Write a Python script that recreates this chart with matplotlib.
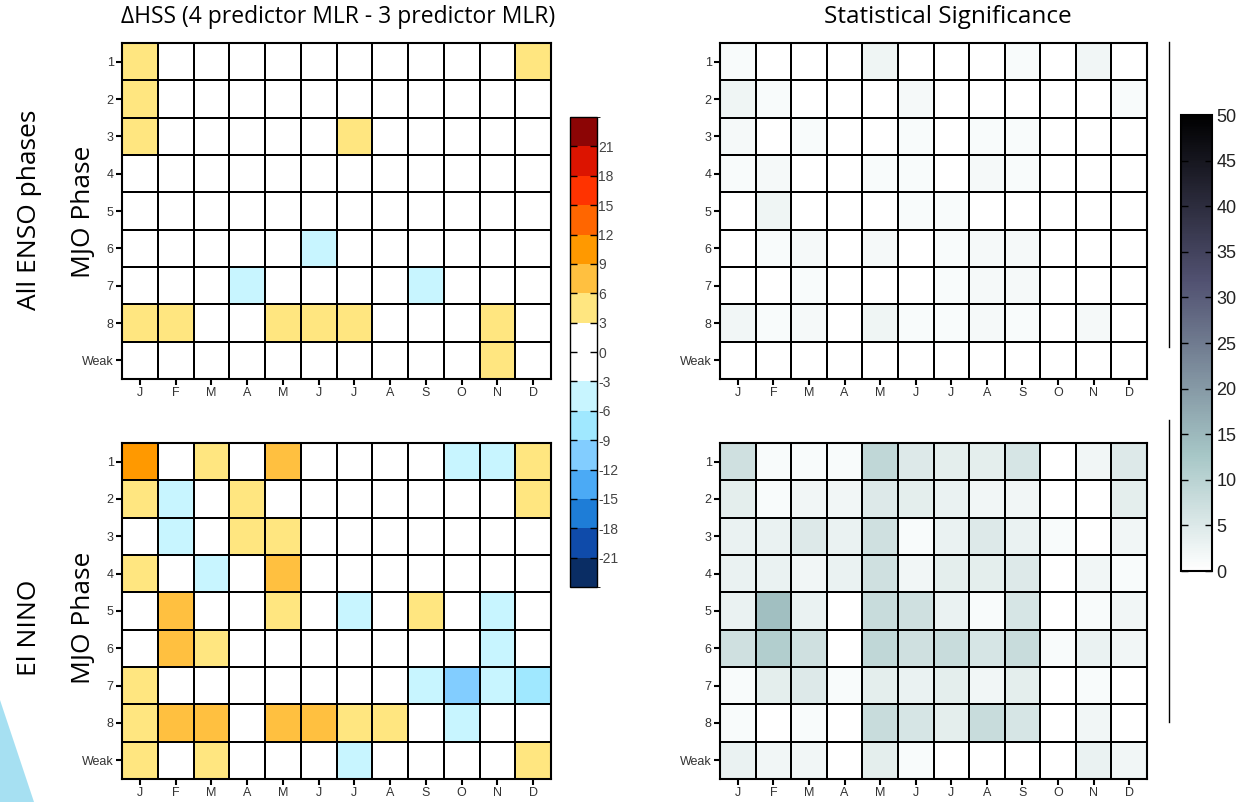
import numpy as np
import matplotlib.pyplot as plt
from matplotlib.colors import ListedColormap, BoundaryNorm
from matplotlib.patches import Polygon


months = ['J', 'F', 'M', 'A', 'M', 'J', 'J', 'A', 'S', 'O', 'N', 'D']
phases = ['1', '2', '3', '4', '5', '6', '7', '8', 'Weak']

# delta HSS, all ENSO phases (rows = MJO phase 1..8, Weak)
dhss_all = [
    [4, 0, 0, 0, 0, 0, 0, 0, 0, 0, 0, 4],
    [4, 0, 0, 0, 0, 0, 0, 0, 0, 0, 0, 0],
    [4, 0, 0, 0, 0, 0, 4, 0, 0, 0, 0, 0],
    [0, 0, 0, 0, 0, 0, 0, 0, 0, 0, 0, 0],
    [0, 0, 0, 0, 0, 0, 0, 0, 0, 0, 0, 0],
    [0, 0, 0, 0, 0, -4, 0, 0, 0, 0, 0, 0],
    [0, 0, 0, -4, 0, 0, 0, 0, -4, 0, 0, 0],
    [4, 4, 0, 0, 4, 4, 4, 0, 0, 0, 4, 0],
    [0, 0, 0, 0, 0, 0, 0, 0, 0, 0, 4, 0],
]

# delta HSS, El Nino
dhss_nino = [
    [10, 0, 4, 0, 7, 0, 0, 0, 0, -4, -4, 4],
    [4, -4, 0, 4, 0, 0, 0, 0, 0, 0, 0, 4],
    [0, -4, 0, 4, 4, 0, 0, 0, 0, 0, 0, 0],
    [4, 0, -4, 0, 7, 0, 0, 0, 0, 0, 0, 0],
    [0, 7, 0, 0, 4, 0, -4, 0, 4, 0, -4, 0],
    [0, 7, 4, 0, 0, 0, 0, 0, 0, 0, -4, 0],
    [4, 0, 0, 0, 0, 0, 0, 0, -4, -10, -4, -7],
    [4, 7, 7, 0, 7, 7, 4, 4, 0, -4, 0, 0],
    [4, 0, 4, 0, 0, 0, -4, 0, 0, 0, 0, 4],
]

# statistical significance, all ENSO phases
sig_all = [
    [1, 0, 0, 0, 2.5, 0, 0, 0, 1, 0, 2, 0],
    [2.5, 1, 0, 0, 0, 1.5, 0, 0, 0, 0, 0, 1],
    [1.5, 0, 1, 0, 0, 1, 0, 1, 1, 0, 0, 0],
    [1, 1.5, 0, 0, 1, 1, 0, 1.5, 1, 0, 0, 0],
    [0, 2.5, 0, 0, 0, 1, 1, 0, 0, 0, 0, 0],
    [0, 1, 1.5, 0, 1.5, 0, 1, 1.5, 1.5, 0, 0, 0],
    [0, 0, 1, 0, 0, 0, 1, 1.5, 1.5, 0, 0, 0],
    [2, 1, 1.5, 0, 2.5, 1, 1, 1.5, 1, 0, 1.5, 0],
    [0, 0, 0, 0, 0, 0, 0, 0, 0, 0, 0, 0],
]

# statistical significance, El Nino
sig_nino = [
    [7, 1, 1, 1, 9, 5, 4, 4, 6, 0, 2, 5],
    [4, 1, 2, 2, 5, 4, 3, 2, 2, 0, 0, 4],
    [3, 3, 5, 3, 7, 1, 3, 5, 3, 1, 0, 2],
    [3, 3, 2, 3, 7, 2, 4, 4, 5, 0, 2, 1],
    [3, 14, 3, 0, 8, 7, 3, 1, 6, 0, 1, 2],
    [7, 11, 7, 0, 9, 7, 8, 6, 8, 1, 3, 2],
    [1, 4, 5, 1, 4, 3, 4, 2, 4, 0, 1, 0],
    [1, 0, 1, 0, 8, 6, 4, 8, 6, 0, 2, 0],
    [3, 2, 2, 0, 4, 1, 0, 0, 0, 0, 3, 2],
]

hss_bounds = [-24, -21, -18, -15, -12, -9, -6, -3, 3, 6, 9, 12, 15, 18, 21, 24]
hss_ticks = [-21, -18, -15, -12, -9, -6, -3, 0, 3, 6, 9, 12, 15, 18, 21]
hss_colors = ['#0a2d64', '#0f4baa', '#1e7dd7', '#4baaf5', '#82cdff', '#a0e8ff', '#c8f5ff',
              '#ffffff',
              '#ffe680', '#ffc040', '#ff9900', '#ff6600', '#ff3300', '#dc1400', '#8c0505']
sig_ticks = [0, 5, 10, 15, 20, 25, 30, 35, 40, 45, 50]

hss_cmap = ListedColormap(hss_colors)
hss_norm = BoundaryNorm(hss_bounds, hss_cmap.N)

W, H = 1243, 802
tickfont = 'Liberation Sans'


def rect(x0, y0, x1, y1):
    return [x0 / W, 1 - y1 / H, (x1 - x0) / W, (y1 - y0) / H]


def heat(ax, data, cmap, norm=None, vmin=None, vmax=None):
    m = ax.pcolormesh(np.array(data, dtype=float), cmap=cmap, norm=norm, vmin=vmin, vmax=vmax,
                      edgecolors='black', linewidth=1.3)
    ax.set_xlim(0, 12)
    ax.set_ylim(9, 0)
    ax.set_xticks(np.arange(12) + 0.5)
    ax.set_xticklabels(months, family=tickfont)
    ax.set_yticks(np.arange(9) + 0.5)
    ax.set_yticklabels(phases, family=tickfont)
    ax.tick_params(length=4, width=1.5, color='black', labelsize=9, labelcolor='#333333', pad=2)
    for s in ax.spines.values():
        s.set_linewidth(1.5)
    return m


fig = plt.figure(figsize=(12.43, 8.02), dpi=100)

ax1 = fig.add_axes(rect(122, 43, 551, 379))
m1 = heat(ax1, dhss_all, hss_cmap, norm=hss_norm)
ax2 = fig.add_axes(rect(122, 443, 551, 779))
heat(ax2, dhss_nino, hss_cmap, norm=hss_norm)
ax3 = fig.add_axes(rect(720, 43, 1147, 379))
m3 = heat(ax3, sig_all, 'bone_r', vmin=0, vmax=50)
ax4 = fig.add_axes(rect(720, 443, 1147, 779))
heat(ax4, sig_nino, 'bone_r', vmin=0, vmax=50)

cax1 = fig.add_axes(rect(570, 117, 597, 587))
cb1 = fig.colorbar(m1, cax=cax1, boundaries=hss_bounds, ticks=hss_ticks, spacing='proportional')
cb1.ax.set_yticklabels([str(t) for t in hss_ticks], family=tickfont)
cb1.ax.tick_params(direction='in', length=5, width=1, left=True, right=True,
                   labelsize=10, labelcolor='#444444', pad=1)
cb1.outline.set_linewidth(1)

cax2 = fig.add_axes(rect(1181, 115, 1212, 571))
cb2 = fig.colorbar(m3, cax=cax2, ticks=sig_ticks)
cb2.ax.set_yticklabels([str(t) for t in sig_ticks], family=tickfont)
cb2.ax.tick_params(direction='in', length=5, width=1, left=True, right=True,
                   labelsize=13, labelcolor='#222222', pad=3)
cb2.outline.set_linewidth(1.5)

fig.text(338 / W, 1 - 17 / H, '\u0394HSS (4 predictor MLR - 3 predictor MLR)',
         ha='center', va='center', fontsize=16.5, family='Open Sans')
fig.text(948 / W, 1 - 17 / H, 'Statistical Significance',
         ha='center', va='center', fontsize=17.5, family='Open Sans')
fig.text(30 / W, 1 - 210 / H, 'All ENSO phases', rotation=90,
         ha='center', va='center', fontsize=19, family='Open Sans')
fig.text(84 / W, 1 - 212 / H, 'MJO Phase', rotation=90,
         ha='center', va='center', fontsize=19, family='Open Sans')
fig.text(30 / W, 1 - 628 / H, 'El NINO', rotation=90,
         ha='center', va='center', fontsize=19, family='Open Sans')
fig.text(84 / W, 1 - 618 / H, 'MJO Phase', rotation=90,
         ha='center', va='center', fontsize=19, family='Open Sans')

# thin vertical rules next to the right colorbar
fig.add_artist(plt.Line2D([1169 / W, 1169 / W], [1 - 42 / H, 1 - 347 / H], color='black', lw=1))
fig.add_artist(plt.Line2D([1169 / W, 1169 / W], [1 - 420 / H, 1 - 722 / H], color='black', lw=1))

# light blue wedge in the lower left corner
fig.add_artist(Polygon([[0, 1 - 700 / H], [34 / W, 0], [0, 0]], closed=True,
                       transform=fig.transFigure, facecolor='#a6e0f2', edgecolor='none'))

plt.savefig('out.png', dpi=100)
plt.close()
